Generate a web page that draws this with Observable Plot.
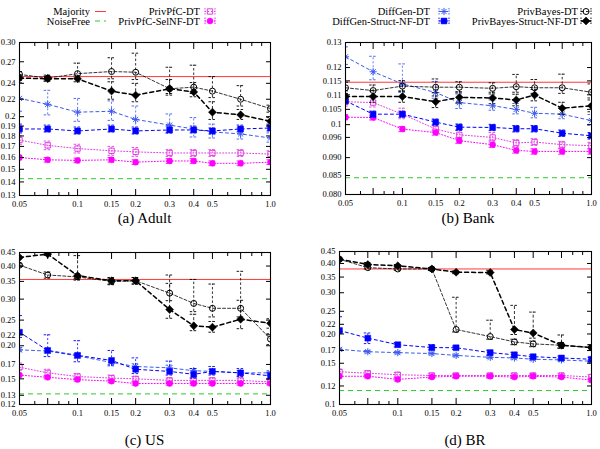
<!DOCTYPE html>
<html>
<head>
<meta charset="utf-8">
<script src="https://cdn.jsdelivr.net/npm/d3@7"></script>
<script src="https://cdn.jsdelivr.net/npm/@observablehq/plot@0.6"></script>
<style>
  body { margin: 0; background: #fff; font-family: "Liberation Serif", serif; }
  #root { position: relative; width: 600px; height: 449px; overflow: hidden; background: #fff; }
  #root svg, #root svg text { font-family: "Liberation Serif", serif !important; }
  .cap { position: absolute; width: 200px; text-align: center; font-size: 15px; line-height: 18px; color: #000; }
</style>
</head>
<body>
<div id="root"></div>
<script>
// Privacy budget (epsilon) on the x axis
const epsilon = [0.05, 0.07, 0.1, 0.15, 0.2, 0.3, 0.4, 0.5, 0.7, 1.0];
const epsilonLabels = ["0.05", "0.07", "0.1", "0.15", "0.2", "0.3", "0.4", "0.5", "0.7", "1.0"];
const epsilonMinor = [0.06, 0.08, 0.09, 0.6, 0.8, 0.9];

const seriesNames = ["PrivPfC-DT", "PrivPfC-SelNF-DT", "DiffGen-DT", "DiffGen-Struct-NF-DT", "PrivBayes-DT", "PrivBayes-Struct-NF-DT"];
const baselineNames = ["Majority", "NoiseFree"];

// ---- Adult: error rate, with upper / lower error-bar extents ----
const adultMajority = 0.249;
const adultNoiseFree = 0.1425;
const adultYTicks = [0.13, 0.14, 0.15, 0.16, 0.17, 0.18, 0.19, 0.2, 0.22, 0.24, 0.27, 0.30];
const adultYLabels = ["0.13", "0.14", "0.15", "0.16", "0.17", "0.18", "0.19", "0.2", "0.22", "0.24", "0.27", "0.30"];
const adultPrivPfC = [0.176, 0.171, 0.168, 0.166, 0.165, 0.164, 0.164, 0.164, 0.164, 0.163];
const adultPrivPfCUp = [0.004, 0.004, 0.004, 0.004, 0.004, 0.003, 0.003, 0.003, 0.003, 0.003];
const adultPrivPfCDown = [0.004, 0.004, 0.004, 0.004, 0.004, 0.003, 0.003, 0.003, 0.003, 0.003];
const adultPrivPfCSelNF = [0.160, 0.158, 0.1575, 0.158, 0.156, 0.157, 0.157, 0.155, 0.155, 0.156];
const adultPrivPfCSelNFUp = [0.002, 0.002, 0.002, 0.002, 0.002, 0.002, 0.002, 0.002, 0.002, 0.002];
const adultPrivPfCSelNFDown = [0.002, 0.002, 0.002, 0.002, 0.002, 0.002, 0.002, 0.002, 0.002, 0.002];
const adultDiffGen = [0.221, 0.214, 0.205, 0.206, 0.197, 0.191, 0.187, 0.184, 0.182, 0.178];
const adultDiffGenUp = [0.02, 0.017, 0.016, 0.012, 0.015, 0.012, 0.012, 0.008, 0.006, 0.005];
const adultDiffGenDown = [0.015, 0.012, 0.01, 0.01, 0.01, 0.008, 0.008, 0.006, 0.005, 0.004];
const adultDiffGenStruct = [0.187, 0.187, 0.185, 0.187, 0.185, 0.186, 0.186, 0.185, 0.187, 0.188];
const adultDiffGenStructUp = [0.005, 0.004, 0.004, 0.004, 0.004, 0.004, 0.004, 0.003, 0.004, 0.004];
const adultDiffGenStructDown = [0.004, 0.003, 0.003, 0.003, 0.003, 0.003, 0.003, 0.003, 0.003, 0.003];
const adultPrivBayes = [0.252, 0.247, 0.253, 0.256, 0.255, 0.233, 0.235, 0.230, 0.220, 0.209];
const adultPrivBayesUp = [0.004, 0.004, 0.015, 0.02, 0.028, 0.029, 0.03, 0.019, 0.017, 0.004];
const adultPrivBayesDown = [0.004, 0.004, 0.006, 0.01, 0.01, 0.008, 0.008, 0.008, 0.008, 0.004];
const adultPrivBayesStruct = [0.247, 0.246, 0.246, 0.230, 0.225, 0.233, 0.229, 0.205, 0.202, 0.195];
const adultPrivBayesStructUp = [0.003, 0.003, 0.004, 0.012, 0.015, 0.012, 0.012, 0.012, 0.006, 0.004];
const adultPrivBayesStructDown = [0.003, 0.003, 0.004, 0.01, 0.008, 0.006, 0.006, 0.008, 0.005, 0.004];

// ---- Bank ----
const bankMajority = 0.1145;
const bankNoiseFree = 0.0844;
const bankYTicks = [0.080, 0.085, 0.090, 0.096, 0.1, 0.105, 0.11, 0.115, 0.12, 0.13];
const bankYLabels = ["0.080", "0.085", "0.090", "0.096", "0.1", "0.105", "0.11", "0.115", "0.12", "0.13"];
const bankPrivPfC = [0.1076, 0.1073, 0.1034, 0.0986, 0.0968, 0.0960, 0.0943, 0.0946, 0.0938, 0.0935];
const bankPrivPfCUp = [0.002, 0.002, 0.002, 0.0015, 0.0015, 0.0015, 0.001, 0.001, 0.001, 0.001];
const bankPrivPfCDown = [0.0015, 0.0015, 0.0015, 0.001, 0.001, 0.001, 0.001, 0.001, 0.001, 0.001];
const bankPrivPfCSelNF = [0.1024, 0.1023, 0.0986, 0.0975, 0.0950, 0.0938, 0.0921, 0.0918, 0.0918, 0.0918];
const bankPrivPfCSelNFUp = [0.0008, 0.0008, 0.0008, 0.0008, 0.0008, 0.0008, 0.0008, 0.0008, 0.0008, 0.0008];
const bankPrivPfCSelNFDown = [0.0008, 0.0008, 0.0008, 0.0008, 0.0008, 0.0008, 0.0008, 0.0008, 0.0008, 0.0008];
const bankDiffGen = [0.1242, 0.1184, 0.1139, 0.1108, 0.1073, 0.1062, 0.1050, 0.1037, 0.1034, 0.1013];
const bankDiffGenUp = [0.004, 0.006, 0.0075, 0.004, 0.003, 0.002, 0.002, 0.002, 0.002, 0.002];
const bankDiffGenDown = [0.003, 0.003, 0.003, 0.002, 0.002, 0.0015, 0.0015, 0.0015, 0.0015, 0.0015];
const bankDiffGenStruct = [0.1079, 0.1034, 0.1034, 0.1008, 0.0992, 0.0991, 0.0987, 0.0987, 0.0973, 0.0965];
const bankDiffGenStructUp = [0.001, 0.001, 0.001, 0.001, 0.001, 0.001, 0.001, 0.001, 0.001, 0.001];
const bankDiffGenStructDown = [0.001, 0.001, 0.001, 0.001, 0.001, 0.001, 0.001, 0.001, 0.001, 0.001];
const bankPrivBayes = [0.1125, 0.1115, 0.1131, 0.1127, 0.1127, 0.1123, 0.1129, 0.1125, 0.1125, 0.1109];
const bankPrivBayesUp = [0.002, 0.002, 0.002, 0.003, 0.002, 0.002, 0.0045, 0.003, 0.005, 0.003];
const bankPrivBayesDown = [0.002, 0.002, 0.002, 0.002, 0.002, 0.002, 0.002, 0.002, 0.002, 0.002];
const bankPrivBayesStruct = [0.1094, 0.1094, 0.1094, 0.1076, 0.1091, 0.1089, 0.1082, 0.1099, 0.1054, 0.1062];
const bankPrivBayesStructUp = [0.002, 0.002, 0.002, 0.002, 0.002, 0.002, 0.002, 0.002, 0.002, 0.002];
const bankPrivBayesStructDown = [0.002, 0.002, 0.002, 0.002, 0.002, 0.002, 0.002, 0.002, 0.002, 0.002];

// ---- US ----
const usMajority = 0.356;
const usNoiseFree = 0.1316;
const usYTicks = [0.12, 0.13, 0.15, 0.17, 0.20, 0.22, 0.25, 0.30, 0.35, 0.40, 0.45];
const usYLabels = ["0.12", "0.13", "0.15", "0.17", "0.20", "0.22", "0.25", "0.30", "0.35", "0.40", "0.45"];
const usPrivPfC = [0.166, 0.158, 0.153, 0.151, 0.150, 0.148, 0.148, 0.148, 0.148, 0.146];
const usPrivPfCUp = [0.006, 0.005, 0.004, 0.004, 0.003, 0.003, 0.003, 0.003, 0.003, 0.003];
const usPrivPfCDown = [0.004, 0.004, 0.003, 0.003, 0.003, 0.003, 0.003, 0.003, 0.003, 0.003];
const usPrivPfCSelNF = [0.155, 0.152, 0.149, 0.147, 0.144, 0.144, 0.144, 0.144, 0.144, 0.144];
const usPrivPfCSelNFUp = [0.002, 0.002, 0.002, 0.002, 0.002, 0.002, 0.002, 0.002, 0.002, 0.002];
const usPrivPfCSelNFDown = [0.002, 0.002, 0.002, 0.002, 0.002, 0.002, 0.002, 0.002, 0.002, 0.002];
const usDiffGen = [0.193, 0.191, 0.183, 0.173, 0.167, 0.165, 0.161, 0.160, 0.158, 0.158];
const usDiffGenUp = [0.004, 0.004, 0.004, 0.004, 0.004, 0.004, 0.003, 0.003, 0.003, 0.003];
const usDiffGenDown = [0.003, 0.003, 0.003, 0.003, 0.003, 0.003, 0.003, 0.003, 0.003, 0.003];
const usDiffGenStruct = [0.225, 0.192, 0.184, 0.176, 0.163, 0.160, 0.156, 0.160, 0.158, 0.154];
const usDiffGenStructUp = [0.035, 0.028, 0.025, 0.016, 0.017, 0.015, 0.008, 0.007, 0.006, 0.005];
const usDiffGenStructDown = [0.01, 0.01, 0.01, 0.008, 0.006, 0.005, 0.005, 0.005, 0.005, 0.005];
const usPrivBayes = [0.403, 0.370, 0.364, 0.350, 0.352, 0.316, 0.289, 0.277, 0.277, 0.212];
const usPrivBayesUp = [0.005, 0.01, 0.01, 0.01, 0.01, 0.054, 0.067, 0.065, 0.105, 0.01];
const usPrivBayesDown = [0.005, 0.01, 0.01, 0.01, 0.01, 0.02, 0.02, 0.02, 0.02, 0.01];
const usPrivBayesStruct = [0.431, 0.444, 0.368, 0.352, 0.352, 0.274, 0.238, 0.235, 0.252, 0.243];
const usPrivBayesStructUp = [0.005, 0.005, 0.07, 0.01, 0.01, 0.07, 0.025, 0.012, 0.045, 0.01];
const usPrivBayesStructDown = [0.005, 0.005, 0.01, 0.01, 0.01, 0.02, 0.01, 0.01, 0.02, 0.01];

// ---- BR ----
const brMajority = 0.379;
const brNoiseFree = 0.1147;
const brYTicks = [0.1, 0.12, 0.15, 0.17, 0.20, 0.22, 0.25, 0.30, 0.35, 0.40, 0.45];
const brYLabels = ["0.1", "0.12", "0.15", "0.17", "0.20", "0.22", "0.25", "0.30", "0.35", "0.40", "0.45"];
const brPrivPfC = [0.138, 0.136, 0.134, 0.133, 0.133, 0.133, 0.133, 0.133, 0.133, 0.131];
const brPrivPfCUp = [0.003, 0.003, 0.003, 0.003, 0.003, 0.003, 0.003, 0.003, 0.003, 0.003];
const brPrivPfCDown = [0.003, 0.003, 0.003, 0.003, 0.003, 0.003, 0.003, 0.003, 0.003, 0.003];
const brPrivPfCSelNF = [0.132, 0.132, 0.128, 0.131, 0.132, 0.132, 0.131, 0.132, 0.131, 0.127];
const brPrivPfCSelNFUp = [0.002, 0.002, 0.002, 0.002, 0.002, 0.002, 0.002, 0.002, 0.002, 0.002];
const brPrivPfCSelNFDown = [0.002, 0.002, 0.002, 0.002, 0.002, 0.002, 0.002, 0.002, 0.002, 0.002];
const brDiffGen = [0.172, 0.168, 0.1665, 0.165, 0.162, 0.159, 0.158, 0.156, 0.155, 0.153];
const brDiffGenUp = [0.002, 0.002, 0.002, 0.002, 0.002, 0.002, 0.002, 0.002, 0.002, 0.002];
const brDiffGenDown = [0.002, 0.002, 0.002, 0.002, 0.002, 0.002, 0.002, 0.002, 0.002, 0.002];
const brDiffGenStruct = [0.207, 0.192, 0.180, 0.175, 0.1747, 0.1665, 0.163, 0.160, 0.158, 0.156];
const brDiffGenStructUp = [0.03, 0.01, 0.004, 0.005, 0.003, 0.004, 0.004, 0.003, 0.003, 0.003];
const brDiffGenStructDown = [0.005, 0.01, 0.004, 0.004, 0.003, 0.004, 0.004, 0.003, 0.003, 0.003];
const brPrivBayes = [0.417, 0.384, 0.379, 0.379, 0.209, 0.195, 0.185, 0.1815, 0.179, 0.175];
const brPrivBayesUp = [0.005, 0.01, 0.01, 0.005, 0.078, 0.034, 0.005, 0.005, 0.005, 0.005];
const brPrivBayesDown = [0.005, 0.005, 0.005, 0.005, 0.005, 0.005, 0.005, 0.005, 0.005, 0.005];
const brPrivBayesStruct = [0.417, 0.396, 0.391, 0.379, 0.367, 0.366, 0.209, 0.202, 0.179, 0.175];
const brPrivBayesStructUp = [0.005, 0.008, 0.005, 0.005, 0.005, 0.008, 0.056, 0.046, 0.019, 0.005];
const brPrivBayesStructDown = [0.005, 0.005, 0.005, 0.005, 0.005, 0.005, 0.01, 0.01, 0.005, 0.005];

// ---- custom point shapes ----
const starSymbol = {
  draw(ctx, size) {
    const r = Math.sqrt(size / Math.PI), d = r * 0.72;
    ctx.moveTo(-r, 0); ctx.lineTo(r, 0);
    ctx.moveTo(0, -r); ctx.lineTo(0, r);
    ctx.moveTo(-d, -d); ctx.lineTo(d, d);
    ctx.moveTo(-d, d); ctx.lineTo(d, -d);
  }
};
const capSymbol = {
  draw(ctx, size) {
    const r = Math.sqrt(size / Math.PI);
    ctx.moveTo(-r, 0); ctx.lineTo(r, 0);
  }
};

const styles = [
  {color: "#e23ce2", symbol: "square", filled: false, r: 3, dash: "1,2", width: 1, barDash: "1.5,1.5"},
  {color: "#ff00ff", symbol: "circle", filled: true, r: 3, dash: "1,2", width: 1, barDash: "1.5,1.5"},
  {color: "#3c5af0", symbol: starSymbol, filled: false, r: 3.6, dash: "3,3", width: 1, barDash: "2,2"},
  {color: "#0000ff", symbol: "square", filled: true, r: 3.3, dash: "3,3", width: 1, barDash: "2,2"},
  {color: "#000000", symbol: "circle", filled: false, r: 3, dash: "3,2", width: 0.8, barDash: "2.5,2"},
  {color: "#000000", symbol: "diamond2", filled: true, r: 3.6, dash: "4,3", width: 1.5, barDash: "3,2"}
];
const majorityStyle = {color: "#ff3838", dash: null};
const noiseFreeStyle = {color: "#2ec82e", dash: "5,4"};

const root = document.getElementById("root");

function drawPanel(p) {
  const xLab = new Map(epsilon.map((d, i) => [d, epsilonLabels[i]]));
  const yLab = new Map(p.yTicks.map((d, i) => [d, p.yLabels[i]]));
  const marks = [
    Plot.ruleY([p.majority], {stroke: majorityStyle.color, strokeWidth: 1}),
    Plot.ruleY([p.noiseFree], {stroke: noiseFreeStyle.color, strokeWidth: 1, strokeDasharray: noiseFreeStyle.dash})
  ];
  p.series.forEach((s, k) => {
    const st = styles[k];
    const rows = epsilon.map((e, i) => ({eps: e, v: s.values[i], lo: s.values[i] - s.down[i], hi: s.values[i] + s.up[i]}));
    const caps = rows.flatMap(r => [{eps: r.eps, y: r.lo}, {eps: r.eps, y: r.hi}]);
    marks.push(
      Plot.ruleX(rows, {x: "eps", y1: "lo", y2: "hi", stroke: st.color, strokeWidth: 0.8, strokeDasharray: st.barDash, clip: true}),
      Plot.dot(caps, {x: "eps", y: "y", r: 4, symbol: capSymbol, fill: "none", stroke: st.color, strokeWidth: 0.9, strokeDasharray: "2.5,1.5", clip: true}),
      Plot.line(rows, {x: "eps", y: "v", stroke: st.color, strokeWidth: st.width, strokeDasharray: st.dash, clip: true}),
      Plot.dot(rows, {x: "eps", y: "v", r: st.r, symbol: st.symbol,
        fill: st.filled ? st.color : "none", stroke: st.color, strokeWidth: st.filled ? 0.5 : 1, clip: true})
    );
  });
  marks.push(
    Plot.frame({stroke: "#000", strokeWidth: 1.1}),
    Plot.axisX({anchor: "bottom", ticks: epsilon, tickSize: -6, tickPadding: 11, tickFormat: d => xLab.get(d), label: null}),
    Plot.axisX({anchor: "bottom", ticks: epsilonMinor, tickSize: -3, tickFormat: () => "", label: null}),
    Plot.axisX({anchor: "top", ticks: epsilon, tickSize: -6, tickFormat: () => "", label: null}),
    Plot.axisX({anchor: "top", ticks: epsilonMinor, tickSize: -3, tickFormat: () => "", label: null}),
    Plot.axisY({anchor: "left", ticks: p.yTicks, tickSize: -5, tickPadding: 9, tickFormat: d => yLab.get(d), label: null}),
    Plot.axisY({anchor: "right", ticks: p.yTicks, tickSize: -5, tickFormat: () => "", label: null})
  );
  const svg = Plot.plot({
    width: p.width, height: p.height,
    marginLeft: p.ml, marginRight: p.mr, marginTop: p.mt, marginBottom: p.mb,
    x: {type: "log", domain: [0.05, 1.0], label: null},
    y: {type: "log", domain: p.yDomain, label: null},
    style: {fontFamily: "'Liberation Serif', serif", fontSize: "8.5px", overflow: "visible", background: "transparent", color: "#000"},
    marks
  });
  svg.style.position = "absolute";
  svg.style.left = p.left + "px";
  svg.style.top = p.top + "px";
  root.appendChild(svg);

  const cap = document.createElement("div");
  cap.className = "cap";
  cap.textContent = p.caption;
  cap.style.left = (p.left + p.ml + (p.width - p.ml - p.mr) / 2 - 100) + "px";
  cap.style.top = p.captionTop + "px";
  root.appendChild(cap);
}

drawPanel({
  caption: "(a) Adult", left: 0, top: 30, width: 290, height: 186, ml: 19, mr: 20, mt: 12, mb: 21, captionTop: 209,
  yDomain: [0.13, 0.30], yTicks: adultYTicks, yLabels: adultYLabels,
  majority: adultMajority, noiseFree: adultNoiseFree,
  series: [
    {values: adultPrivPfC, up: adultPrivPfCUp, down: adultPrivPfCDown},
    {values: adultPrivPfCSelNF, up: adultPrivPfCSelNFUp, down: adultPrivPfCSelNFDown},
    {values: adultDiffGen, up: adultDiffGenUp, down: adultDiffGenDown},
    {values: adultDiffGenStruct, up: adultDiffGenStructUp, down: adultDiffGenStructDown},
    {values: adultPrivBayes, up: adultPrivBayesUp, down: adultPrivBayesDown},
    {values: adultPrivBayesStruct, up: adultPrivBayesStructUp, down: adultPrivBayesStructDown}
  ]
});
drawPanel({
  caption: "(b) Bank", left: 300, top: 30, width: 300, height: 186, ml: 45, mr: 9, mt: 12, mb: 22, captionTop: 209,
  yDomain: [0.080, 0.13], yTicks: bankYTicks, yLabels: bankYLabels,
  majority: bankMajority, noiseFree: bankNoiseFree,
  series: [
    {values: bankPrivPfC, up: bankPrivPfCUp, down: bankPrivPfCDown},
    {values: bankPrivPfCSelNF, up: bankPrivPfCSelNFUp, down: bankPrivPfCSelNFDown},
    {values: bankDiffGen, up: bankDiffGenUp, down: bankDiffGenDown},
    {values: bankDiffGenStruct, up: bankDiffGenStructUp, down: bankDiffGenStructDown},
    {values: bankPrivBayes, up: bankPrivBayesUp, down: bankPrivBayesDown},
    {values: bankPrivBayesStruct, up: bankPrivBayesStructUp, down: bankPrivBayesStructDown}
  ]
});
drawPanel({
  caption: "(c) US", left: 0, top: 240, width: 290, height: 186, ml: 19, mr: 20, mt: 12, mb: 22, captionTop: 431,
  yDomain: [0.12, 0.45], yTicks: usYTicks, yLabels: usYLabels,
  majority: usMajority, noiseFree: usNoiseFree,
  series: [
    {values: usPrivPfC, up: usPrivPfCUp, down: usPrivPfCDown},
    {values: usPrivPfCSelNF, up: usPrivPfCSelNFUp, down: usPrivPfCSelNFDown},
    {values: usDiffGen, up: usDiffGenUp, down: usDiffGenDown},
    {values: usDiffGenStruct, up: usDiffGenStructUp, down: usDiffGenStructDown},
    {values: usPrivBayes, up: usPrivBayesUp, down: usPrivBayesDown},
    {values: usPrivBayesStruct, up: usPrivBayesStructUp, down: usPrivBayesStructDown}
  ]
});
drawPanel({
  caption: "(d) BR", left: 300, top: 240, width: 300, height: 186, ml: 39, mr: 9, mt: 11, mb: 22, captionTop: 431,
  yDomain: [0.1, 0.45], yTicks: brYTicks, yLabels: brYLabels,
  majority: brMajority, noiseFree: brNoiseFree,
  series: [
    {values: brPrivPfC, up: brPrivPfCUp, down: brPrivPfCDown},
    {values: brPrivPfCSelNF, up: brPrivPfCSelNFUp, down: brPrivPfCSelNFDown},
    {values: brDiffGen, up: brDiffGenUp, down: brDiffGenDown},
    {values: brDiffGenStruct, up: brDiffGenStructUp, down: brDiffGenStructDown},
    {values: brPrivBayes, up: brPrivBayesUp, down: brPrivBayesDown},
    {values: brPrivBayesStruct, up: brPrivBayesStructUp, down: brPrivBayesStructDown}
  ]
});

// ---- key above the panels ----
const key = d3.select(root).append("svg")
  .attr("width", 600).attr("height", 30)
  .style("position", "absolute").style("left", "0px").style("top", "0px")
  .style("font-size", "10.5px");

const rowY = [11.5, 21];
const baselineKeys = [majorityStyle, noiseFreeStyle];
baselineNames.forEach((name, i) => {
  key.append("text").attr("x", 90).attr("y", rowY[i]).attr("dy", "0.35em").attr("text-anchor", "end").text(name);
  key.append("line").attr("x1", 95).attr("x2", 106).attr("y1", rowY[i]).attr("y2", rowY[i])
    .attr("stroke", baselineKeys[i].color).attr("stroke-dasharray", baselineKeys[i].dash);
});

const keyCols = [
  {textX: 200, symX: 210}, {textX: 200, symX: 210},
  {textX: 430, symX: 444}, {textX: 430, symX: 444},
  {textX: 578, symX: 586}, {textX: 578, symX: 586}
];
seriesNames.forEach((name, k) => {
  const st = styles[k], col = keyCols[k], y = rowY[k % 2];
  key.append("text").attr("x", col.textX).attr("y", y).attr("dy", "0.35em").attr("text-anchor", "end").text(name);
  const g = key.append("g").attr("transform", `translate(${col.symX},${y})`)
    .attr("stroke", st.color).attr("fill", "none");
  g.append("line").attr("x1", -5).attr("x2", 5).attr("y1", 0).attr("y2", 0)
    .attr("stroke-width", st.width).attr("stroke-dasharray", st.dash);
  [-5, 5].forEach(dx => g.append("line").attr("x1", dx).attr("x2", dx).attr("y1", -3.5).attr("y2", 3.5)
    .attr("stroke-width", 0.9).attr("stroke-dasharray", "1.5,1"));
  const sym = typeof st.symbol === "string"
    ? {square: d3.symbolSquare, circle: d3.symbolCircle, diamond2: d3.symbolDiamond2}[st.symbol]
    : st.symbol;
  g.append("path").attr("d", d3.symbol(sym, st.r * st.r * Math.PI)())
    .attr("fill", st.filled ? st.color : "none").attr("stroke-width", st.filled ? 0.5 : 1);
});
</script>
</body>
</html>
